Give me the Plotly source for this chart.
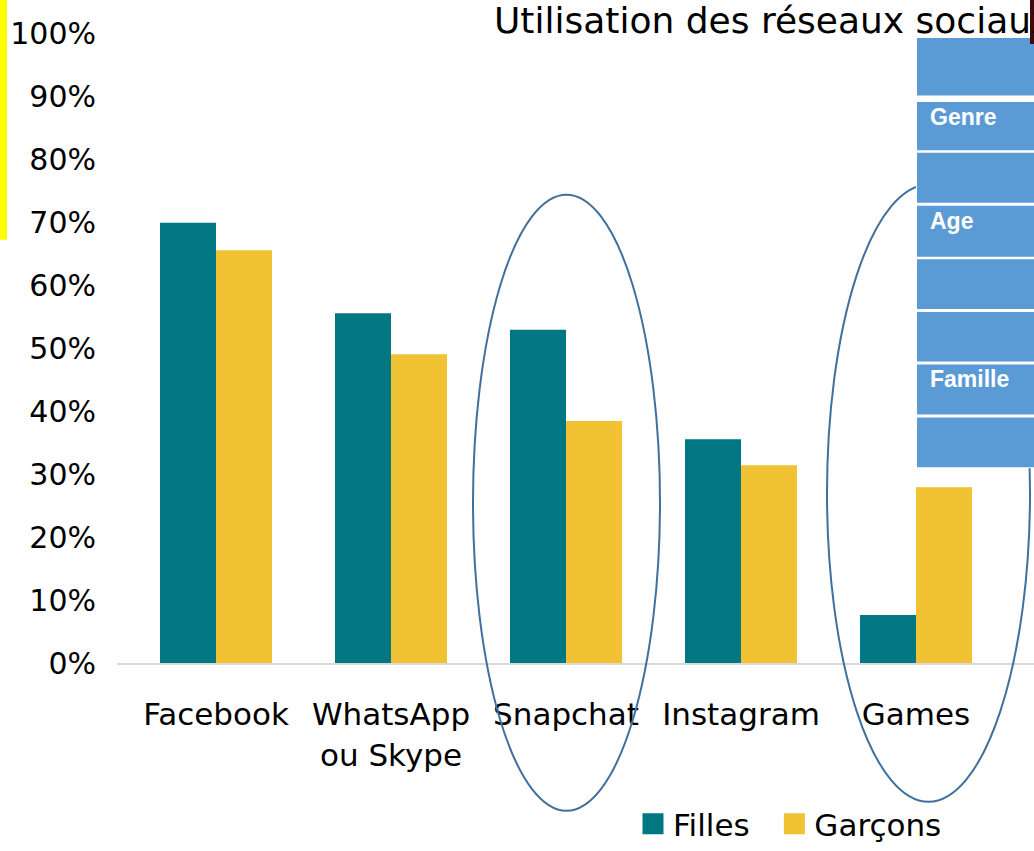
import plotly.graph_objects as go

categories = ["Facebook", "WhatsApp<br>ou Skype", "Snapchat", "Instagram", "Games"]
filles = [0.699, 0.555, 0.529, 0.355, 0.076]
garcons = [0.655, 0.490, 0.384, 0.314, 0.279]
series_names = ["Filles", "Garçons"]
colors = ["#007782", "#f1c232"]
y_ticks = [0, 0.1, 0.2, 0.3, 0.4, 0.5, 0.6, 0.7, 0.8, 0.9, 1.0]
panel_labels = ["", "Genre", "", "Age", "", "", "Famille", ""]
title_text = "Utilisation des réseaux sociaux"

FONT = "DejaVu Sans"
W, H = 1034, 851
L, R, T, B = 117, 0, 33, 187
PW, PH = W - L - R, H - T - B


def px(x):
    return (x - L) / PW


def py(y):
    return (H - B - y) / PH


xs = list(range(len(categories)))
fig = go.Figure()
legend_pad = ["\u00a0\u00a0", ""]
for name, vals, col, pad in zip(series_names, [filles, garcons], colors, legend_pad):
    fig.add_trace(go.Bar(x=xs, y=vals, name=name, marker_color=col,
                         marker_line_width=0, showlegend=False))
    fig.add_trace(go.Scatter(x=[None], y=[None], mode="markers", name=name + pad,
                             marker=dict(symbol="square", size=16, color=col,
                                         line=dict(color=col, width=5))))

shapes = []
# yellow stripe on left edge
shapes.append(dict(type="rect", xref="paper", yref="paper", x0=px(-2), x1=px(7),
                   y0=py(240), y1=py(-2), fillcolor="#ffff00", line_width=0, layer="above"))
# ellipses
for (x0, x1, y0, y1) in [(473, 660, 195, 812), (827, 1030, 185, 803)]:
    shapes.append(dict(type="circle", xref="paper", yref="paper",
                       x0=px(x0), x1=px(x1), y0=py(y1), y1=py(y0),
                       line=dict(color="#41709c", width=2), layer="above"))
# blue panel: white backing, then rows
shapes.append(dict(type="rect", xref="paper", yref="paper",
                   x0=px(916), x1=px(1040), y0=py(469), y1=py(37),
                   fillcolor="white", line_width=0, layer="above"))
rows = [(38, 95.5), (102, 150.5), (153, 203), (206, 257), (259.5, 309.5),
        (312.5, 362), (365, 415), (418, 468)]
annotations = []
for (ya, yb), lab in zip(rows, panel_labels):
    shapes.append(dict(type="rect", xref="paper", yref="paper",
                       x0=px(917), x1=px(1040), y0=py(yb), y1=py(ya),
                       fillcolor="#5b9bd5", line_width=0, layer="above"))
    if lab:
        annotations.append(dict(text="<b>%s</b>" % lab, xref="paper", yref="paper",
                                x=px(928), y=py(ya + 15), xanchor="left", yanchor="middle",
                                showarrow=False,
                                font=dict(family="Liberation Sans", size=23, color="white")))
# dark bar at right edge
shapes.append(dict(type="rect", xref="paper", yref="paper", x0=px(1030), x1=px(1040),
                   y0=py(44), y1=py(-2), fillcolor="#3d0a0a", line_width=0, layer="above"))

annotations.append(dict(text=title_text, xref="paper", yref="paper", x=px(492), y=py(20),
                        xanchor="left", yanchor="middle", showarrow=False,
                        font=dict(family=FONT, size=36, color="black")))

fig.update_layout(
    width=W, height=H,
    margin=dict(l=L, r=R, t=T, b=B, pad=0),
    paper_bgcolor="white", plot_bgcolor="white",
    barmode="group", bargap=0.36, bargroupgap=0,
    font=dict(family=FONT, color="black"),
    xaxis=dict(range=[-99 / 175, (W - 216) / 175], tickmode="array", tickvals=xs,
               ticktext=categories, showgrid=False, zeroline=False,
               showline=True, linecolor="#d9d9d9", linewidth=2, ticks="",
               tickfont=dict(size=31), ticklabelstandoff=23),
    yaxis=dict(range=[0, 1], tickmode="array", tickvals=y_ticks, tickformat=".0%",
               showgrid=False, zeroline=False, showline=False, ticks="",
               tickfont=dict(size=30), ticklabelstandoff=20),
    legend=dict(orientation="h", x=px(633), y=py(825.5), xanchor="left", yanchor="middle",
                font=dict(size=31), itemsizing="trace", bgcolor="rgba(0,0,0,0)"),
    shapes=shapes, annotations=annotations,
)

fig.write_html("out.html", config={"displayModeBar": False},
               post_script="document.body.style.margin='0px';document.body.style.overflow='hidden';")
